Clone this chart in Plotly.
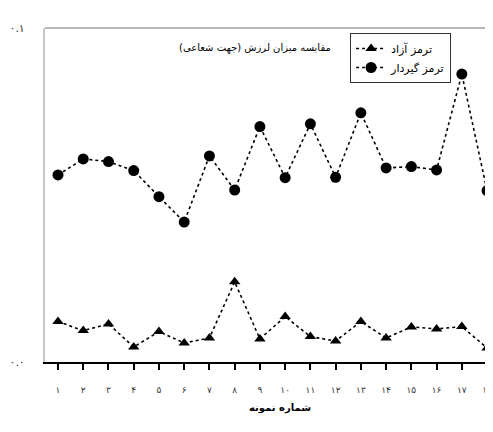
import plotly.graph_objects as go

samples = list(range(1, 19))
tick_labels = ["۱", "۲", "۳", "۴", "۵", "۶", "۷", "۸", "۹", "۱۰",
               "۱۱", "۱۲", "۱۳", "۱۴", "۱۵", "۱۶", "۱۷", "۱۸"]
free_brake = [0.0121, 0.0094, 0.0114, 0.0045, 0.0091, 0.0057, 0.0072, 0.0240, 0.0069,
              0.0136, 0.0076, 0.0063, 0.0121, 0.0072, 0.0105, 0.0099, 0.0106, 0.0042]
sticky_brake = [0.0560, 0.0608, 0.0600, 0.0573, 0.0495, 0.0419, 0.0617, 0.0515, 0.0705,
                0.0552, 0.0713, 0.0553, 0.0746, 0.0581, 0.0585, 0.0575, 0.0862, 0.0513]
y_ticks = [0.0, 0.1]
y_tick_labels = ["۰.۰", "۰.۱"]

name_free = "ترمز آزاد"
name_sticky = "ترمز گیردار"
title_text = "مقایسه میزان لرزش (جهت شعاعی)"
x_title = "شماره نمونه"

FONT = "DejaVu Sans"

fig = go.Figure()
fig.add_trace(go.Scatter(
    x=samples, y=free_brake, name=name_free, mode="lines+markers",
    line=dict(color="black", width=1.6, dash="dot"),
    marker=dict(symbol="triangle-up", size=10, color="black"),
))
fig.add_trace(go.Scatter(
    x=samples, y=sticky_brake, name=name_sticky, mode="lines+markers",
    line=dict(color="black", width=1.6, dash="dot"),
    marker=dict(symbol="circle", size=11, color="black"),
))

# page body adds an 8px offset, so the figure is sized/margined to compensate
fig.update_layout(
    width=485, height=424,
    margin=dict(l=37, r=0, t=20, b=70),
    paper_bgcolor="white", plot_bgcolor="white",
    font=dict(family=FONT, color="black"),
    showlegend=True,
    legend=dict(
        x=0.681, y=0.985, xanchor="left", yanchor="top",
        bgcolor="white", bordercolor="#333", borderwidth=1,
        font=dict(size=11, family=FONT, color="black"),
        itemwidth=30, tracegroupgap=4,
    ),
    xaxis=dict(
        range=[0.485, 18.235], automargin=False,
        tickmode="array", tickvals=samples, ticktext=tick_labels,
        showline=True, linecolor="black", linewidth=2,
        ticks="outside", ticklen=6, tickcolor="black", tickwidth=1.5,
        ticklabelstandoff=12,
        tickfont=dict(size=9, color="#333", family=FONT),
        showgrid=False, zeroline=False,
    ),
    yaxis=dict(
        range=[0, 0.1], automargin=False,
        tickmode="array", tickvals=y_ticks, ticktext=y_tick_labels,
        showline=True, linecolor="#c8c8c8", linewidth=2,
        ticks="", ticklabelstandoff=16,
        tickfont=dict(size=11, color="#333", family=FONT),
        showgrid=False, zeroline=False,
    ),
    shapes=[dict(type="line", xref="paper", yref="paper", x0=0, x1=1, y0=1, y1=1,
                 line=dict(color="#b8b8b8", width=2))],
    annotations=[
        dict(text=title_text, xref="paper", yref="paper", x=0.642, y=0.94,
             xanchor="right", yanchor="middle", showarrow=False,
             font=dict(size=10, family=FONT, color="black")),
        dict(text="<b>" + x_title + "</b>", xref="paper", yref="paper", x=0.525, y=-0.138,
             xanchor="center", yanchor="middle", showarrow=False,
             font=dict(size=10, family=FONT, color="black")),
    ],
)

fig.write_html("out.html")
